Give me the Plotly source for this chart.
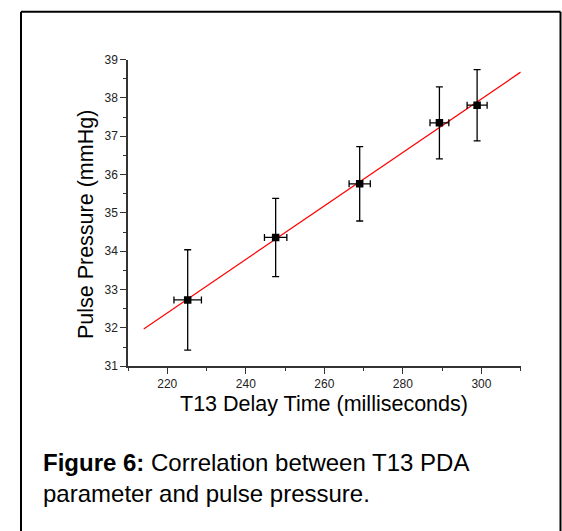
import numpy as np
import plotly.graph_objects as go

# Data
delay_ms = [225.2, 247.6, 269.0, 289.3, 298.9]
delay_err = [3.5, 2.85, 2.7, 2.4, 2.55]
pulse_mmHg = [32.73, 34.36, 35.76, 37.35, 37.81]
pulse_err = [1.31, 1.02, 0.97, 0.94, 0.93]
fit_x_range = [214, 310]
x_ticks = [220, 240, 260, 280, 300]
y_ticks = [31, 32, 33, 34, 35, 36, 37, 38, 39]

W, H = 562, 531
FONT = "Liberation Sans, Arial, sans-serif"

def px(x):
    return x / W

def py(y):
    return 1 - y / H

slope, intercept = np.polyfit(delay_ms, pulse_mmHg, 1)
fx = np.array(fit_x_range, dtype=float)
fy = slope * fx + intercept

fig = go.Figure()
fig.add_trace(go.Scatter(
    x=fx, y=fy, mode="lines",
    line=dict(color="#ff0000", width=1.2),
    hoverinfo="skip", showlegend=False,
))
fig.add_trace(go.Scatter(
    x=delay_ms, y=pulse_mmHg, mode="markers",
    marker=dict(symbol="square", size=7.5, color="black"),
    error_y=dict(type="data", array=pulse_err, color="black", thickness=1.3, width=3.5),
    error_x=dict(type="data", array=delay_err, color="black", thickness=1.3, width=3.5),
    showlegend=False,
))

axis_common = dict(
    showgrid=False, zeroline=False, showline=True, linecolor="#333333", linewidth=1.5,
    ticks="outside", ticklen=6, tickwidth=1.3, tickcolor="#333333",
    tickfont=dict(family=FONT, size=12, color="#222222"),
)

fig.update_layout(
    width=W, height=H,
    margin=dict(l=0, r=0, t=0, b=0),
    paper_bgcolor="white", plot_bgcolor="white",
    xaxis=dict(
        domain=[px(128), px(520.7)], range=[210, 310],
        tickvals=x_ticks,
        minor=dict(ticks="outside", ticklen=3, tickwidth=1.3, tickcolor="#333333", dtick=10, tick0=210),
        **axis_common,
    ),
    yaxis=dict(
        domain=[py(369), py(54)], range=[31, 39],
        tickvals=y_ticks,
        minor=dict(ticks="outside", ticklen=3, tickwidth=1.3, tickcolor="#333333", dtick=0.5, tick0=31),
        **axis_common,
    ),
    shapes=[
        dict(type="line", xref="paper", yref="paper", x0=px(21), x1=px(560.5), y0=py(5), y1=py(5),
             line=dict(color="black", width=2)),
        dict(type="line", xref="paper", yref="paper", x0=px(21), x1=px(21), y0=py(5), y1=-0.05,
             line=dict(color="black", width=2)),
        dict(type="line", xref="paper", yref="paper", x0=px(560.5), x1=px(560.5), y0=py(5), y1=-0.05,
             line=dict(color="black", width=2)),
    ],
    annotations=[
        dict(text="T13 Delay Time (milliseconds)", xref="paper", yref="paper",
             x=px(324), y=py(408), xanchor="center", yanchor="middle", showarrow=False,
             font=dict(family=FONT, size=21.5, color="black")),
        dict(text="Pulse Pressure (mmHg)", xref="paper", yref="paper",
             x=px(86), y=py(224), xanchor="center", yanchor="middle", showarrow=False,
             textangle=-90, font=dict(family=FONT, size=21.5, color="black")),
        dict(text="<b>Figure 6:</b> Correlation between T13 PDA<br>parameter and pulse pressure.",
             xref="paper", yref="paper", align="left",
             x=px(41), y=py(484), xanchor="left", yanchor="middle", showarrow=False,
             font=dict(family=FONT, size=24, color="black")),
    ],
)

fig.write_html("out.html")
